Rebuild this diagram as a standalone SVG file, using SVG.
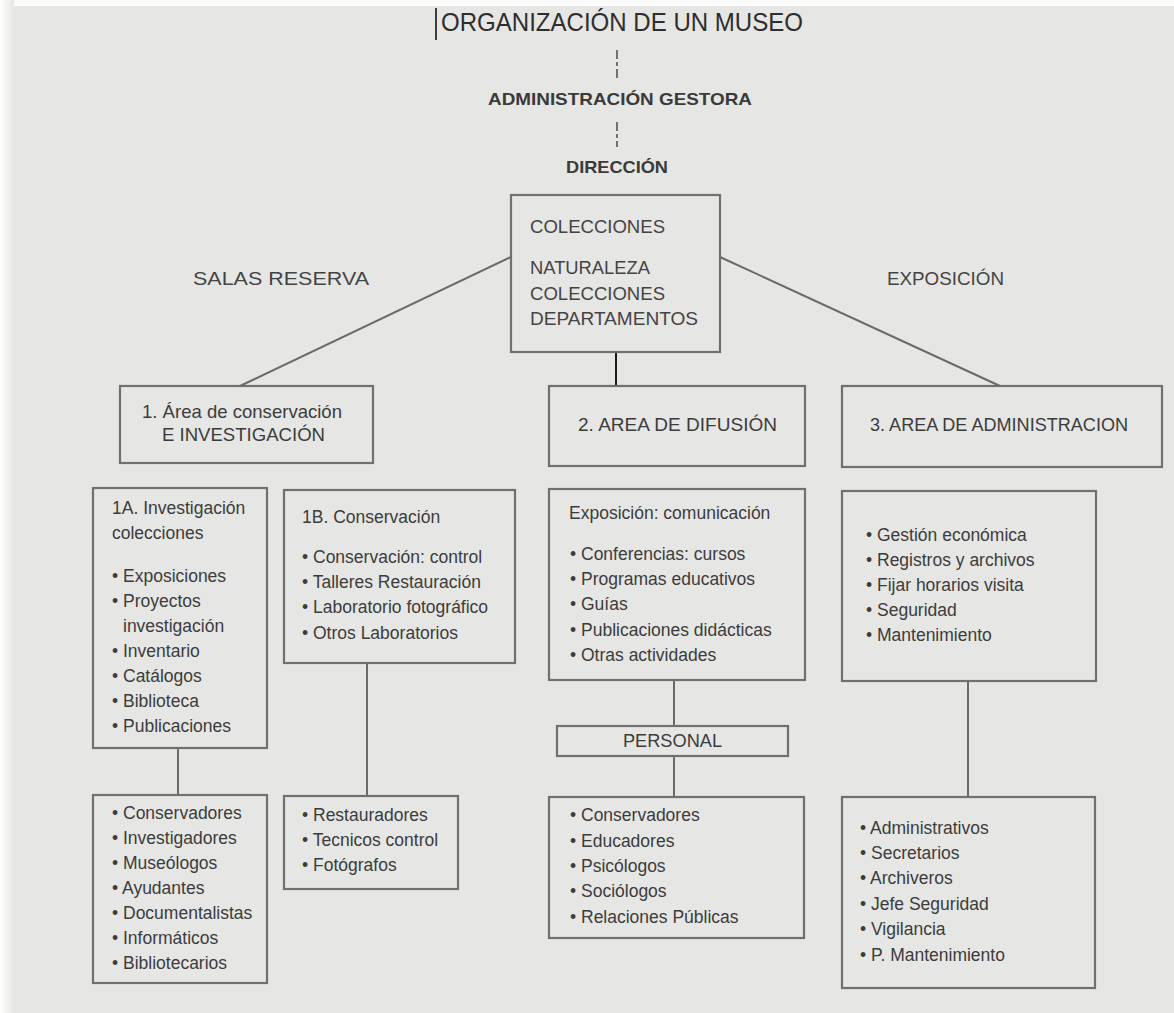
<svg xmlns="http://www.w3.org/2000/svg" width="1174" height="1013" viewBox="0 0 1174 1013">
<defs>
<linearGradient id="leftfade" x1="0" y1="0" x2="1" y2="0">
<stop offset="0" stop-color="#ffffff"/>
<stop offset="1" stop-color="#e6e6e4"/>
</linearGradient>
<style>
.bg{fill:#e6e6e4}
.box{fill:none;stroke:#707070;stroke-width:2.2}
.con{stroke:#6a6a6a;stroke-width:2;fill:none}
.dark{stroke:#1a1a1a;stroke-width:2;fill:none}
.dash{stroke:#555;stroke-width:1.6;stroke-dasharray:9 3 4 3;fill:none}
text{font-family:"Liberation Sans",Arial,Helvetica,sans-serif;fill:#3c3c3c}
.t{font-size:17.5px}
.h{font-size:18.5px}
.title{font-size:25px;fill:#2e2e2e}
.bold{font-size:17px;font-weight:bold;fill:#3a3a3a}
.cap{font-size:18px;fill:#444}
</style>
</defs>
<rect class="bg" x="0" y="0" width="1174" height="1013"/>
<rect x="0" y="0" width="1174" height="6" fill="#fbfbfb"/>
<rect x="0" y="0" width="14" height="1013" fill="url(#leftfade)"/>

<g id="connectors">
<line x1="436" y1="8" x2="436" y2="40" stroke="#111" stroke-width="1.6"/>
<line class="dash" x1="617" y1="50" x2="617" y2="80"/>
<line class="dash" x1="617" y1="122" x2="617" y2="147"/>
<line class="con" x1="511" y1="257" x2="240" y2="386"/>
<line class="con" x1="720" y1="257" x2="1000" y2="386"/>
<line class="dark" x1="616" y1="352" x2="616" y2="386"/>
<line class="con" x1="178" y1="748" x2="178" y2="795"/>
<line class="con" x1="367" y1="663" x2="367" y2="796"/>
<line class="con" x1="674" y1="680" x2="674" y2="726"/>
<line class="con" x1="674" y1="756" x2="674" y2="797"/>
<line class="con" x1="968" y1="681" x2="968" y2="797"/>
</g>

<g id="title">
<text class="title" x="441" y="31" textLength="362" lengthAdjust="spacingAndGlyphs">ORGANIZACIÓN DE UN MUSEO</text>
</g>
<g id="admin-gestora">
<text class="bold" x="488" y="105" textLength="264" lengthAdjust="spacingAndGlyphs">ADMINISTRACIÓN GESTORA</text>
</g>
<g id="direccion">
<text class="bold" x="566" y="173" textLength="102" lengthAdjust="spacingAndGlyphs">DIRECCIÓN</text>
</g>
<g id="salas-reserva">
<text class="cap" x="193" y="285" textLength="176" lengthAdjust="spacingAndGlyphs">SALAS RESERVA</text>
</g>
<g id="exposicion-label">
<text class="cap" x="887" y="285" textLength="117" lengthAdjust="spacingAndGlyphs">EXPOSICIÓN</text>
</g>

<g id="colecciones">
<rect class="box" x="511" y="195" width="209" height="157"/>
<text class="cap" x="530" y="233" textLength="135" lengthAdjust="spacingAndGlyphs">COLECCIONES</text>
<text class="cap" x="530" y="274" textLength="120" lengthAdjust="spacingAndGlyphs">NATURALEZA</text>
<text class="cap" x="530" y="300" textLength="135" lengthAdjust="spacingAndGlyphs">COLECCIONES</text>
<text class="cap" x="530" y="325" textLength="168" lengthAdjust="spacingAndGlyphs">DEPARTAMENTOS</text>
</g>

<g id="area1">
<rect class="box" x="120" y="386" width="253" height="77"/>
<text class="h" x="142" y="418" textLength="200" lengthAdjust="spacingAndGlyphs">1. Área de conservación</text>
<text class="h" x="162" y="441" textLength="163" lengthAdjust="spacingAndGlyphs">E INVESTIGACIÓN</text>
</g>
<g id="area2">
<rect class="box" x="549" y="386" width="256" height="80"/>
<text class="h" x="578" y="431" textLength="199" lengthAdjust="spacingAndGlyphs">2. AREA DE DIFUSIÓN</text>
</g>
<g id="area3">
<rect class="box" x="842" y="386" width="320" height="81"/>
<text class="h" x="870" y="431" textLength="258" lengthAdjust="spacingAndGlyphs">3. AREA DE ADMINISTRACION</text>
</g>

<g id="box-1a">
<rect class="box" x="93" y="488" width="174" height="260"/>
<text class="t" x="112" y="514">1A. Investigación</text>
<text class="t" x="112" y="539">colecciones</text>
<text class="t" x="112" y="582">• Exposiciones</text>
<text class="t" x="112" y="607">• Proyectos</text>
<text class="t" x="123" y="632">investigación</text>
<text class="t" x="112" y="657">• Inventario</text>
<text class="t" x="112" y="682">• Catálogos</text>
<text class="t" x="112" y="707">• Biblioteca</text>
<text class="t" x="112" y="732">• Publicaciones</text>
</g>
<g id="box-1b">
<rect class="box" x="284" y="490" width="231" height="173"/>
<text class="t" x="302" y="523">1B. Conservación</text>
<text class="t" x="302" y="563">• Conservación: control</text>
<text class="t" x="302" y="588">• Talleres Restauración</text>
<text class="t" x="302" y="613">• Laboratorio fotográfico</text>
<text class="t" x="302" y="639">• Otros Laboratorios</text>
</g>
<g id="box-difusion">
<rect class="box" x="549" y="489" width="256" height="191"/>
<text class="t" x="569" y="519">Exposición: comunicación</text>
<text class="t" x="570" y="560">• Conferencias: cursos</text>
<text class="t" x="570" y="585">• Programas educativos</text>
<text class="t" x="570" y="610">• Guías</text>
<text class="t" x="570" y="636">• Publicaciones didácticas</text>
<text class="t" x="570" y="661">• Otras actividades</text>
</g>
<g id="box-admin">
<rect class="box" x="842" y="491" width="254" height="190"/>
<text class="t" x="866" y="541">• Gestión económica</text>
<text class="t" x="866" y="566">• Registros y archivos</text>
<text class="t" x="866" y="591">• Fijar horarios visita</text>
<text class="t" x="866" y="616">• Seguridad</text>
<text class="t" x="866" y="641">• Mantenimiento</text>
</g>

<g id="personal-1a">
<rect class="box" x="93" y="795" width="174" height="188"/>
<text class="t" x="112" y="819">• Conservadores</text>
<text class="t" x="112" y="844">• Investigadores</text>
<text class="t" x="112" y="869">• Museólogos</text>
<text class="t" x="112" y="894">• Ayudantes</text>
<text class="t" x="112" y="919">• Documentalistas</text>
<text class="t" x="112" y="944">• Informáticos</text>
<text class="t" x="112" y="969">• Bibliotecarios</text>
</g>
<g id="personal-1b">
<rect class="box" x="284" y="796" width="174" height="93"/>
<text class="t" x="302" y="821">• Restauradores</text>
<text class="t" x="302" y="846">• Tecnicos control</text>
<text class="t" x="302" y="871">• Fotógrafos</text>
</g>
<g id="personal-label">
<rect class="box" x="557" y="726" width="231" height="30"/>
<text class="t" x="672.5" y="747" text-anchor="middle" textLength="99" lengthAdjust="spacingAndGlyphs">PERSONAL</text>
</g>
<g id="personal-difusion">
<rect class="box" x="549" y="797" width="255" height="141"/>
<text class="t" x="570" y="821">• Conservadores</text>
<text class="t" x="570" y="847">• Educadores</text>
<text class="t" x="570" y="872">• Psicólogos</text>
<text class="t" x="570" y="897">• Sociólogos</text>
<text class="t" x="570" y="923">• Relaciones Públicas</text>
</g>
<g id="personal-admin">
<rect class="box" x="842" y="797" width="253" height="191"/>
<text class="t" x="860" y="834">• Administrativos</text>
<text class="t" x="860" y="859">• Secretarios</text>
<text class="t" x="860" y="884">• Archiveros</text>
<text class="t" x="860" y="910">• Jefe Seguridad</text>
<text class="t" x="860" y="935">• Vigilancia</text>
<text class="t" x="860" y="961">• P. Mantenimiento</text>
</g>
</svg>
